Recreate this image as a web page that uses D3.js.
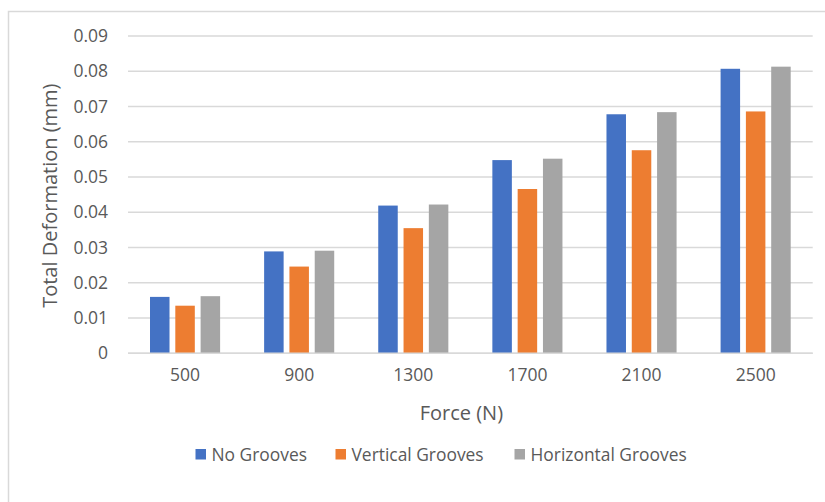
<!DOCTYPE html>
<html>
<head>
<meta charset="utf-8">
<script src="https://cdn.jsdelivr.net/npm/d3@7"></script>
<style>
  html, body { margin: 0; padding: 0; background: #fff; }
  svg { display: block; }
  text { font-family: "Open Sans", sans-serif; fill: #595959; }
</style>
</head>
<body>
<svg id="chart" width="825" height="502"></svg>
<script>
// Force levels (N) and total deformation (mm) per groove configuration
const forces = ["500", "900", "1300", "1700", "2100", "2500"];
const seriesNames = ["No Grooves", "Vertical Grooves", "Horizontal Grooves"];
const noGrooves = [0.0160, 0.0289, 0.0419, 0.0548, 0.0678, 0.0807];
const verticalGrooves = [0.0135, 0.0246, 0.0355, 0.0466, 0.0576, 0.0686];
const horizontalGrooves = [0.0162, 0.0291, 0.0422, 0.0552, 0.0684, 0.0813];
const yTicks = [0, 0.01, 0.02, 0.03, 0.04, 0.05, 0.06, 0.07, 0.08, 0.09];
const colors = ["#4472C4", "#ED7D31", "#A5A5A5"];

const seriesValues = [noGrooves, verticalGrooves, horizontalGrooves];

const svg = d3.select("#chart");

// chart frame
svg.append("rect")
  .attr("x", 8.5).attr("y", 11.5)
  .attr("width", 830).attr("height", 500)
  .attr("fill", "none").attr("stroke", "#D9D9D9").attr("stroke-width", 1.5);

const plot = { left: 128, right: 812.7, top: 36, bottom: 353.3 };

const x = d3.scaleBand().domain(forces).range([plot.left, plot.right]).paddingInner(0).paddingOuter(0);
const y = d3.scaleLinear().domain([0, 0.09]).range([plot.bottom, plot.top]);

// gridlines
svg.append("g")
  .selectAll("line")
  .data(yTicks)
  .join("line")
  .attr("x1", plot.left).attr("x2", plot.right)
  .attr("y1", d => y(d)).attr("y2", d => y(d))
  .attr("stroke", "#D9D9D9").attr("stroke-width", 1.5);

// y tick labels
const yAxis = d3.axisLeft(y).tickValues(yTicks).tickSize(0).tickPadding(0)
  .tickFormat(d => d === 0 ? "0" : d3.format(".2f")(d));
const yG = svg.append("g").attr("transform", `translate(${plot.left - 20},0)`).call(yAxis);
yG.select(".domain").remove();
yG.selectAll("text")
  .attr("font-size", 17.5).attr("fill", "#595959")
  .style("font-family", "'Open Sans', sans-serif");

// bars
const barW = 19.5, barStep = 25.3;
const groups = svg.append("g");
seriesValues.forEach((vals, si) => {
  groups.append("g")
    .selectAll("rect")
    .data(vals)
    .join("rect")
    .attr("x", (d, i) => x(forces[i]) + x.bandwidth() / 2 + (si - 1) * barStep - barW / 2)
    .attr("y", d => y(d))
    .attr("width", barW)
    .attr("height", d => y(0) - y(d))
    .attr("fill", colors[si]);
});

// redraw baseline above bars
svg.append("line")
  .attr("x1", plot.left).attr("x2", plot.right)
  .attr("y1", y(0)).attr("y2", y(0))
  .attr("stroke", "#D9D9D9").attr("stroke-width", 1.5);

// x tick labels
const xAxis = d3.axisBottom(x).tickSize(0).tickPadding(0);
const xG = svg.append("g").attr("transform", `translate(0,${plot.bottom + 15})`).call(xAxis);
xG.select(".domain").remove();
xG.selectAll("text")
  .attr("font-size", 17.5).attr("fill", "#595959")
  .attr("dy", "0.71em")
  .style("font-family", "'Open Sans', sans-serif");

// axis titles
svg.append("text")
  .attr("x", (plot.left + plot.right) / 2 - 9).attr("y", 420)
  .attr("text-anchor", "middle").attr("font-size", 20)
  .text("Force (N)");

svg.append("text")
  .attr("transform", `translate(50,${(plot.top + plot.bottom) / 2 + 1}) rotate(-90)`)
  .attr("text-anchor", "middle").attr("font-size", 20)
  .attr("dy", "0.35em")
  .text("Total Deformation (mm)");

// legend
const legendX = [195.5, 335.5, 514.5];
const legend = svg.append("g");
seriesNames.forEach((name, i) => {
  legend.append("rect")
    .attr("x", legendX[i]).attr("y", 449)
    .attr("width", 10.5).attr("height", 10.5)
    .attr("fill", colors[i]);
  legend.append("text")
    .attr("x", legendX[i] + 16).attr("y", 460.5)
    .attr("font-size", 17.4)
    .text(name);
});
</script>
</body>
</html>
